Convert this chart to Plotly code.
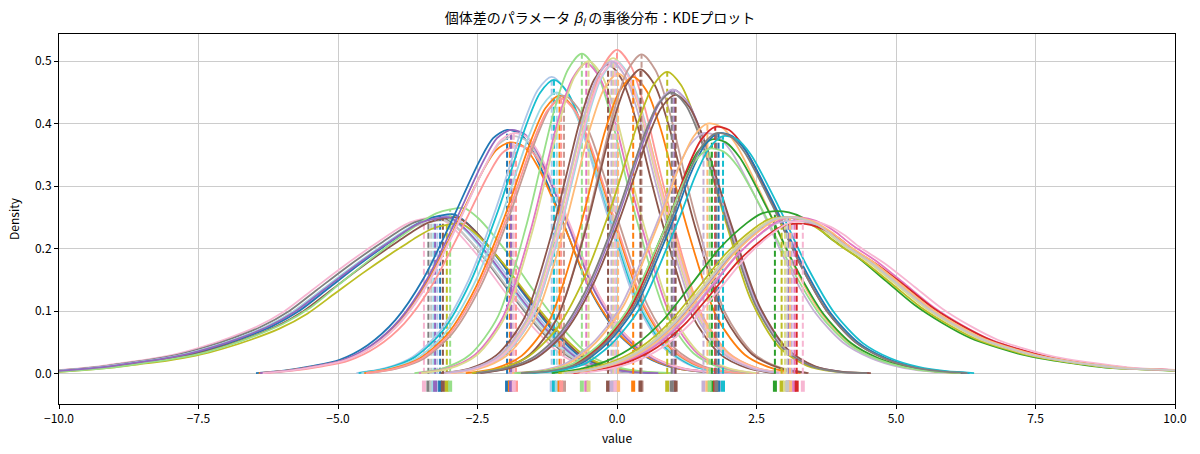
import numpy as np
import plotly.graph_objects as go

# ---- density profiles (offset from curve mean -> density) ----
PROF_A_OFF = [-7.5, -7.0, -6.5, -6.0, -5.5, -5.0, -4.5, -4.0, -3.5, -3.0, -2.5, -2.0, -1.5, -1.0, -0.75, -0.5,
              -0.25, 0.0, 0.25, 0.5, 1.0, 1.5, 2.0, 2.5, 3.0, 3.5, 4.0]
PROF_A_DEN = [0.002, 0.003, 0.006, 0.010, 0.016, 0.022, 0.030, 0.042, 0.057, 0.075, 0.100, 0.134, 0.168, 0.200,
              0.215, 0.230, 0.242, 0.248, 0.250, 0.235, 0.185, 0.125, 0.070, 0.028, 0.010, 0.003, 0.001]

PROF_B_OFF = [-4.5, -4.0, -3.5, -3.0, -2.5, -2.0, -1.5, -1.0, -0.5, -0.25, 0.0, 0.25, 0.5, 1.0, 1.5, 2.0, 2.5,
              3.0, 3.5, 4.0]
PROF_B_DEN = [0.001, 0.005, 0.012, 0.022, 0.045, 0.085, 0.150, 0.240, 0.335, 0.372, 0.385, 0.378, 0.345, 0.240,
              0.130, 0.062, 0.026, 0.009, 0.003, 0.001]

PROF_C_OFF = [-3.5, -3.0, -2.5, -2.0, -1.5, -1.0, -0.5, -0.25, 0.0, 0.25, 0.5, 1.0, 1.5, 2.0, 2.5, 3.0, 3.5]
PROF_C_DEN = [0.001, 0.008, 0.025, 0.065, 0.140, 0.250, 0.380, 0.430, 0.450, 0.430, 0.380, 0.240, 0.110, 0.040,
              0.012, 0.003, 0.001]

PROF_M_OFF = [-3.0, -2.5, -2.0, -1.5, -1.0, -0.75, -0.5, -0.25, 0.0, 0.25, 0.5, 0.75, 1.0, 1.5, 2.0, 2.5, 3.0]
PROF_M_DEN = [0.001, 0.008, 0.030, 0.090, 0.230, 0.320, 0.410, 0.475, 0.500, 0.475, 0.410, 0.320, 0.235, 0.095,
              0.032, 0.009, 0.001]

PROF_H_OFF = [-3.5, -3.0, -2.5, -2.0, -1.5, -1.0, -0.75, -0.5, -0.25, 0.0, 0.25, 0.5, 1.0, 1.5, 2.0, 2.5, 3.0,
              3.5, 4.0, 4.5]
PROF_H_DEN = [0.001, 0.004, 0.015, 0.048, 0.105, 0.205, 0.260, 0.320, 0.365, 0.385, 0.380, 0.355, 0.270, 0.175,
              0.098, 0.050, 0.025, 0.011, 0.004, 0.001]

PROF_I_OFF = [-4.0, -3.5, -3.0, -2.5, -2.0, -1.5, -1.0, -0.5, -0.25, 0.0, 0.25, 0.5, 0.75, 1.0, 1.5, 2.0, 2.5,
              3.0, 3.5, 4.0, 4.5, 5.0, 5.5, 6.0, 6.5, 7.0, 7.5]
PROF_I_DEN = [0.001, 0.007, 0.020, 0.044, 0.083, 0.137, 0.192, 0.232, 0.246, 0.250, 0.248, 0.240, 0.226, 0.208,
              0.178, 0.142, 0.106, 0.078, 0.055, 0.040, 0.028, 0.020, 0.014, 0.009, 0.007, 0.005, 0.002]

PROFILES = {
    "A": (PROF_A_OFF, PROF_A_DEN),
    "B": (PROF_B_OFF, PROF_B_DEN),
    "C": (PROF_C_OFF, PROF_C_DEN),
    "M": (PROF_M_OFF, PROF_M_DEN),
    "H": (PROF_H_OFF, PROF_H_DEN),
    "I": (PROF_I_OFF, PROF_I_DEN),
}

# ---- per-individual posterior mean, peak density, profile ----
CURVE_MEANS = [-3.46, -3.38, -3.33, -3.29, -3.22, -3.17, -3.12, -3.05, -2.99, -3.26,
               -1.97, -1.92, -1.87, -1.81, -1.90, -1.85,
               -1.17, -1.13, -1.08, -1.03, -0.95, -1.00,
               -0.63, -0.55, -0.51,
               -0.16, -0.07, 0.00, -0.02, 0.02, -0.04, -0.10,
               0.29, 0.44, 0.42,
               0.90, 1.02, 1.00, 1.05, 0.98,
               1.55, 1.62, 1.70, 1.76, 1.82, 1.90, 1.66, 1.78,
               2.83, 2.95, 3.01, 3.07, 3.13, 3.18, 3.22, 3.33, 3.10, 3.05]
CURVE_PEAKS = [0.250, 0.250, 0.245, 0.250, 0.252, 0.255, 0.250, 0.240, 0.265, 0.250,
               0.390, 0.370, 0.380, 0.365, 0.390, 0.385,
               0.475, 0.470, 0.450, 0.445, 0.445, 0.440,
               0.512, 0.497, 0.500,
               0.495, 0.505, 0.518, 0.500, 0.480, 0.500, 0.500,
               0.475, 0.511, 0.487,
               0.483, 0.454, 0.455, 0.446, 0.450,
               0.385, 0.400, 0.375, 0.395, 0.385, 0.380, 0.360, 0.385,
               0.260, 0.250, 0.250, 0.250, 0.245, 0.250, 0.240, 0.245, 0.250, 0.250]
CURVE_PROFILE = (["A"] * 10 + ["B"] * 6 + ["C"] * 6 + ["M"] * 3 + ["M"] * 7 + ["M"] * 3
                 + ["C"] * 5 + ["H"] * 8 + ["I"] * 10)

# styles
CURVE_COLORS = ["#f7b6d2", "#7f7f7f", "#c7c7c7", "#9edae5", "#aec7e8", "#1f77b4", "#8c564b", "#bcbd22",
                "#98df8a", "#9467bd",
                "#1f77b4", "#ff7f0e", "#c7c7c7", "#ff9896", "#9467bd", "#f7b6d2",
                "#aec7e8", "#17becf", "#9edae5", "#ff7f0e", "#c49c94", "#ff9896",
                "#98df8a", "#e377c2", "#dbdb8d",
                "#8c564b", "#dbdb8d", "#ff9896", "#9edae5", "#ffbb78", "#f7b6d2", "#c5b0d5",
                "#ff7f0e", "#c49c94", "#8c564b",
                "#bcbd22", "#9467bd", "#c5b0d5", "#8c564b", "#7f7f7f",
                "#c5b0d5", "#ffbb78", "#2ca02c", "#d62728", "#1f77b4", "#17becf", "#98df8a", "#7f7f7f",
                "#2ca02c", "#bcbd22", "#dbdb8d", "#9467bd", "#c5b0d5", "#e377c2", "#d62728", "#f7b6d2",
                "#ffbb78", "#c7c7c7"]

RUG_Y = -0.02
X_TICKS = [-10.0, -7.5, -5.0, -2.5, 0.0, 2.5, 5.0, 7.5, 10.0]
X_TICK_TEXT = ["\u221210.0", "\u22127.5", "\u22125.0", "\u22122.5", "0.0", "2.5", "5.0", "7.5", "10.0"]
Y_TICKS = [0.0, 0.1, 0.2, 0.3, 0.4, 0.5]
Y_TICK_TEXT = ["0.0", "0.1", "0.2", "0.3", "0.4", "0.5"]

FONT = "Noto Sans CJK JP, Noto Sans, DejaVu Sans, sans-serif"

fig = go.Figure()
for m, pk, prof, col in zip(CURVE_MEANS, CURVE_PEAKS, CURVE_PROFILE, CURVE_COLORS):
    off, den = PROFILES[prof]
    off = np.asarray(off, float)
    den = np.asarray(den, float)
    scale = pk / den.max()
    xs = m + off
    ys = den * scale
    fig.add_trace(go.Scatter(x=xs, y=ys, mode="lines",
                             line=dict(color=col, width=1.8, shape="spline", smoothing=0.8),
                             hoverinfo="skip", showlegend=False))
    h = float(np.interp(0.0, off, den)) * scale
    fig.add_trace(go.Scatter(x=[m, m], y=[0, h], mode="lines",
                             line=dict(color=col, width=2, dash="6px,3px"),
                             hoverinfo="skip", showlegend=False))

# rug of posterior means
fig.add_trace(go.Scatter(x=CURVE_MEANS, y=[RUG_Y] * len(CURVE_MEANS), mode="markers",
                         marker=dict(symbol="line-ns", size=8,
                                     line=dict(width=4, color=CURVE_COLORS)),
                         hoverinfo="skip", showlegend=False))

axis_common = dict(showline=True, linecolor="black", linewidth=1, mirror=True,
                   ticks="outside", ticklen=4, tickcolor="black",
                   showgrid=True, gridcolor="#cccccc", gridwidth=1, zeroline=False,
                   automargin=False,
                   tickfont=dict(family=FONT, size=12, color="black"))

fig.update_layout(
    width=1200, height=454,
    margin=dict(l=59, r=25, t=34, b=50),
    paper_bgcolor="white", plot_bgcolor="white",
    font=dict(family=FONT, color="black"),
    title=dict(text="個体差のパラメータ <i>β<sub>l</sub></i> の事後分布：KDEプロット",
               x=0.5, xanchor="center", y=0.96, yanchor="middle", automargin=False,
               font=dict(family=FONT, size=14, color="black")),
    xaxis=dict(range=[-10, 10], tickvals=X_TICKS, ticktext=X_TICK_TEXT,
               title=dict(text="value", font=dict(family=FONT, size=12), standoff=9),
               **axis_common),
    yaxis=dict(range=[-0.0485, 0.5435], tickvals=Y_TICKS, ticktext=Y_TICK_TEXT,
               title=dict(text="Density", font=dict(family=FONT, size=12), standoff=12),
               **axis_common),
)

fig.write_html("out.html", config={"displayModeBar": False},
               post_script="document.body.style.margin='0';document.body.style.padding='0';")
